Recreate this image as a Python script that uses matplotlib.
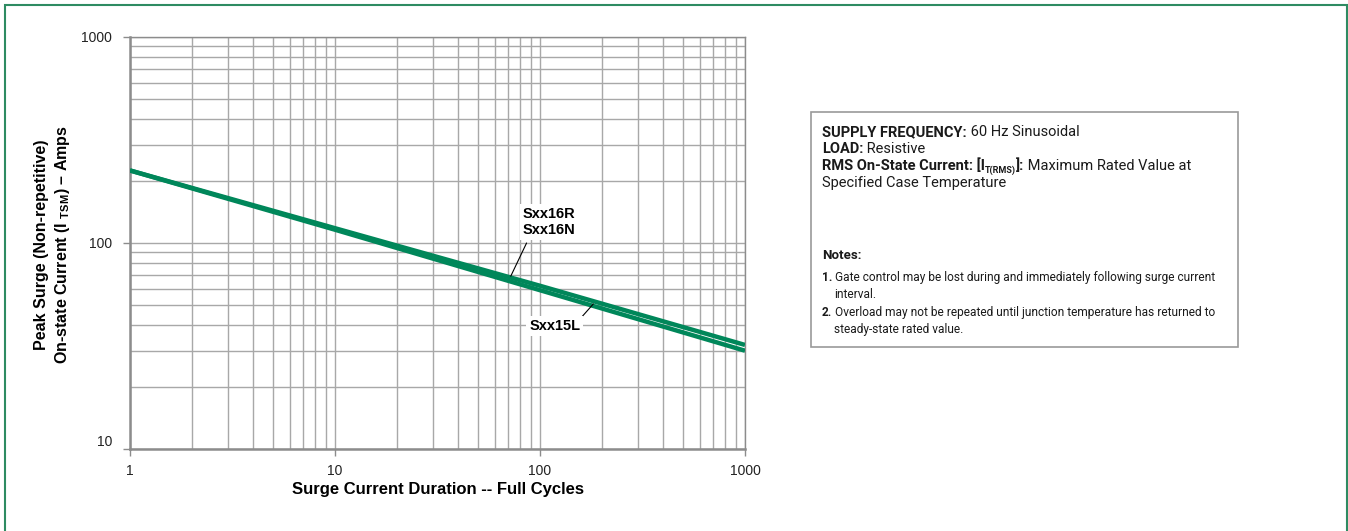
import matplotlib
matplotlib.use("Agg")
import matplotlib.pyplot as plt
from matplotlib.patches import Rectangle
from matplotlib.ticker import NullFormatter

W, H = 1348, 531

# surge curves
cycles = [1, 10, 100, 1000]
amps_16 = [225, 118, 62, 32]   # Sxx16R / Sxx16N
amps_15 = [225, 116, 59, 30]   # Sxx15L
x_ticks = [1, 10, 100, 1000]
y_ticks = [10, 100, 1000]

GREEN = "#00875a"
GRID = "#a8a8a8"
NARROW = ["Roboto", "DejaVu Sans"]

plt.rcParams["font.family"] = ["Liberation Sans", "DejaVu Sans"]
plt.rcParams["mathtext.fontset"] = "custom"
plt.rcParams["mathtext.rm"] = "Liberation Sans"
plt.rcParams["mathtext.bf"] = "Liberation Sans:bold"

fig = plt.figure(figsize=(W / 100, H / 100), dpi=100)
ax = fig.add_axes([130 / W, 1 - 449 / H, 615 / W, 412 / H])
ax.set_xscale("log")
ax.set_yscale("log")
ax.set_xlim(1, 1000)
ax.set_ylim(10, 1000)

ax.grid(which="both", color=GRID, lw=1)
ax.set_axisbelow(True)
for s in ax.spines.values():
    s.set_color("#8c8c8c")
    s.set_linewidth(1)
ax.spines["left"].set_linewidth(1.8)
ax.spines["bottom"].set_linewidth(1.8)

ax.plot(cycles, amps_16, color=GREEN, lw=3.2, solid_capstyle="butt", zorder=3)
ax.plot(cycles, amps_15, color=GREEN, lw=3.2, solid_capstyle="butt", zorder=3)

ax.set_xticks(x_ticks, labels=[str(v) for v in x_ticks])
ax.set_yticks(y_ticks, labels=[str(v) for v in y_ticks])
ax.xaxis.set_minor_formatter(NullFormatter())
ax.yaxis.set_minor_formatter(NullFormatter())
ax.tick_params(which="major", length=5, color="#8c8c8c", width=1,
               labelsize=10, labelcolor="#222222")
ax.tick_params(axis="x", which="major", pad=6)
ax.tick_params(axis="y", which="major", pad=8)
ax.tick_params(which="minor", length=0)
ax.get_yticklabels()[0].set_va("bottom")

ax.set_xlabel("Surge Current Duration -- Full Cycles", fontsize=12,
              weight="bold", labelpad=3)

fig.text(53 / W, 1 - 245 / H,
         "Peak Surge (Non-repetitive)\n"
         r"On-state Current (I $_{\mathbf{TSM}}$) – Amps",
         rotation=90, ha="center", va="center", multialignment="center",
         fontsize=11.5, weight="bold", linespacing=1.25)

# labels with leaders
ax.annotate("", xy=(72, 69), xytext=(86, 100),
            arrowprops=dict(arrowstyle="-", color="k", lw=0.8,
                            shrinkA=0, shrinkB=0), zorder=4)
ax.text(111, 126, "Sxx16R\nSxx16N", ha="center", va="center", fontsize=10.5,
        weight="bold", linespacing=1.2, zorder=5,
        bbox=dict(fc="white", ec="none", pad=2))
ax.annotate("", xy=(182, 50.6), xytext=(143, 38.6),
            arrowprops=dict(arrowstyle="-", color="k", lw=0.8,
                            shrinkA=0, shrinkB=0), zorder=4)
ax.text(118, 39.5, "Sxx15L", ha="center", va="center", fontsize=10.5,
        weight="bold", zorder=5, bbox=dict(fc="white", ec="none", pad=2))

# conditions box
fig.add_artist(Rectangle((811 / W, 1 - 347 / H), 427 / W, 235 / H,
                         transform=fig.transFigure, fill=False,
                         ec="#9a9a9a", lw=1.2))

renderer = fig.canvas.get_renderer()


def put_runs(x, y, runs):
    for s, weight, size, dy in runs:
        t = fig.text(x / W, 1 - (y + dy) / H, s, fontsize=size, weight=weight,
                     family=NARROW, va="baseline", ha="left", color="#1a1a1a")
        x += t.get_window_extent(renderer).width


TOP = 10.5
NOTE = 8.6
put_runs(822, 136, [("SUPPLY FREQUENCY:", "bold", TOP, 0),
                    (" 60 Hz Sinusoidal", "normal", TOP, 0)])
put_runs(822, 153, [("LOAD:", "bold", TOP, 0),
                    (" Resistive", "normal", TOP, 0)])
put_runs(822, 170, [("RMS On-State Current: [I", "bold", TOP, 0),
                    ("T(RMS)", "bold", 6.5, 3),
                    ("]:", "bold", TOP, 0),
                    (" Maximum Rated Value at", "normal", TOP, 0)])
put_runs(822, 187, [("Specified Case Temperature", "normal", TOP, 0)])
put_runs(822, 259, [("Notes:", "bold", 9.5, 0)])
put_runs(822, 281, [("1.", "bold", NOTE, 0),
                    (" Gate control may be lost during and immediately following surge current",
                     "normal", NOTE, 0)])
put_runs(834, 298, [("interval.", "normal", NOTE, 0)])
put_runs(822, 316, [("2.", "bold", NOTE, 0),
                    (" Overload may not be repeated until junction temperature has returned to",
                     "normal", NOTE, 0)])
put_runs(834, 333, [("steady-state rated value.", "normal", NOTE, 0)])

# green page frame
fig.add_artist(Rectangle((5 / W, -0.05), 1342 / W, 1.05 - 5 / H,
                         transform=fig.transFigure, fill=False,
                         ec="#2e8b62", lw=1.5))

fig.savefig("out.png", dpi=100)
